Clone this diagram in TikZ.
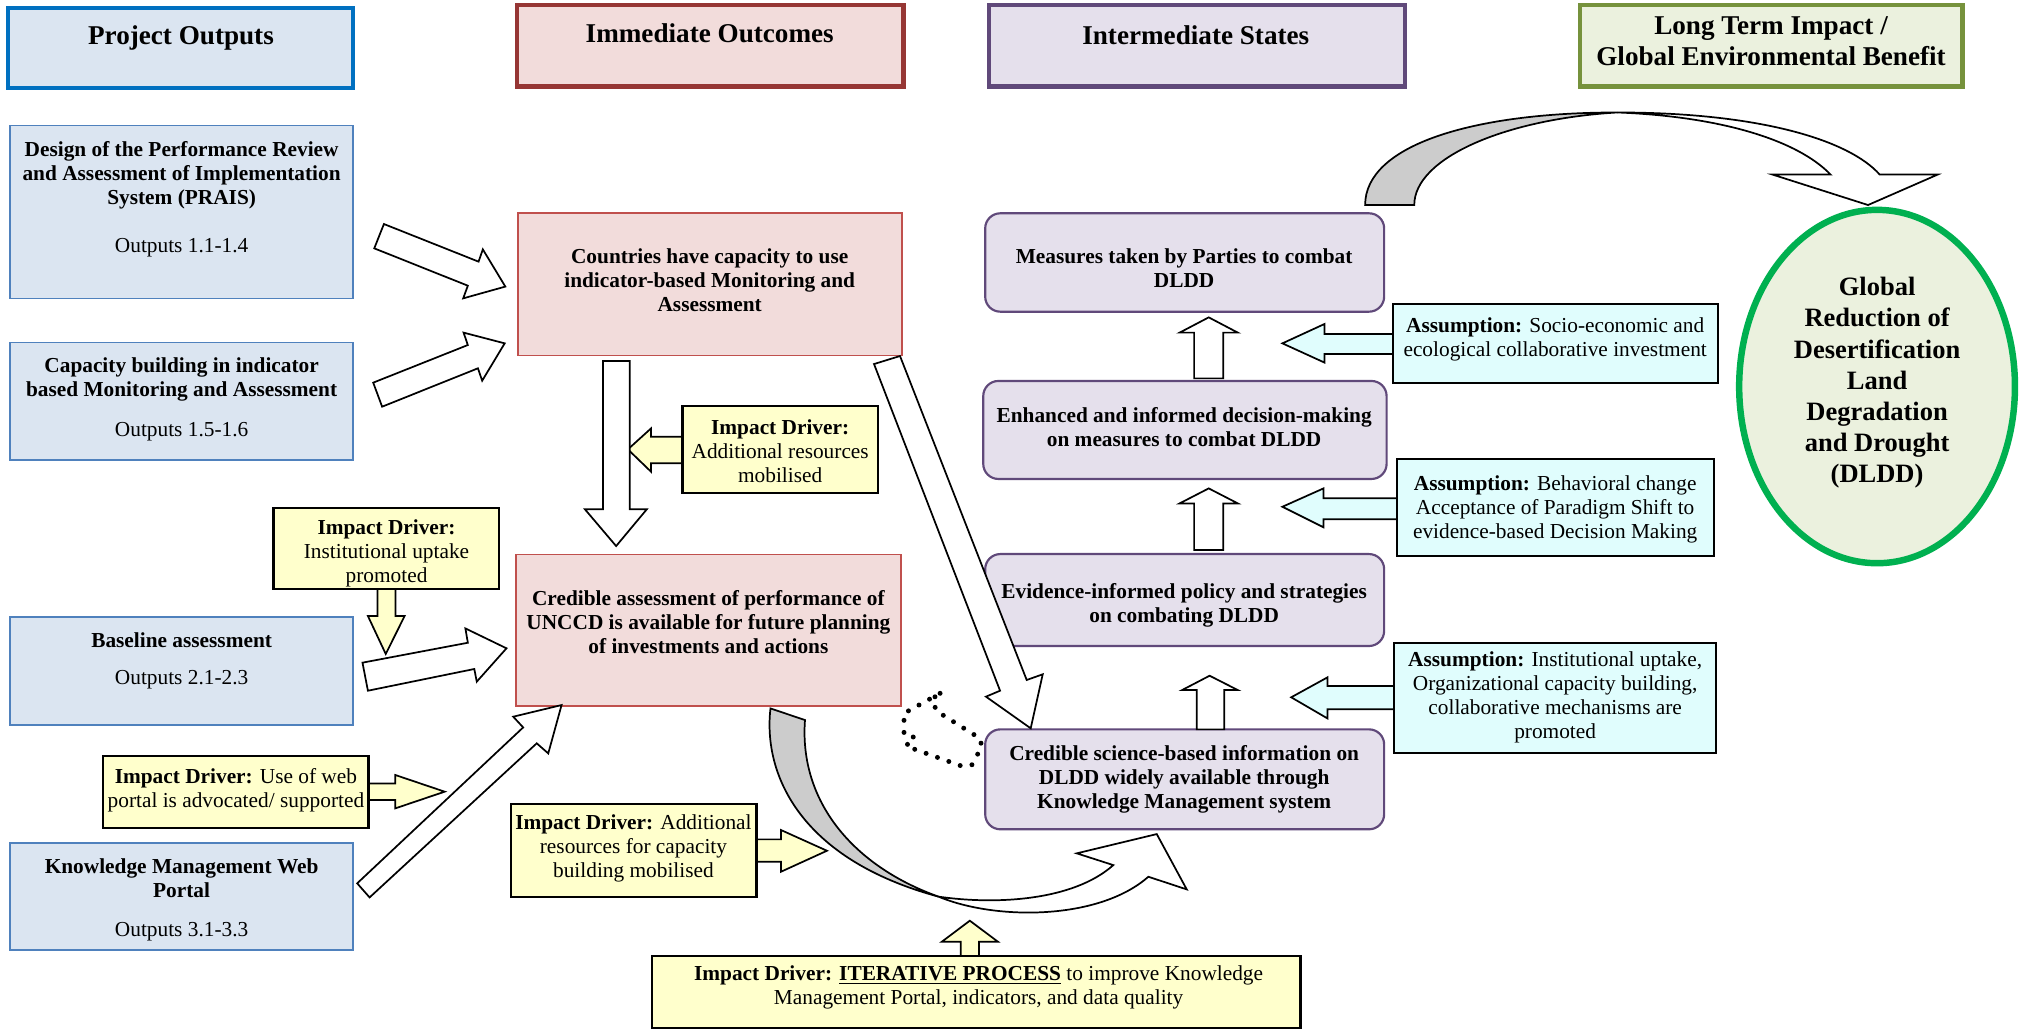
\documentclass[tikz,border=0pt]{standalone}
\usepackage{fontspec}
\setmainfont{Liberation Serif}
\usetikzlibrary{fit,shapes.geometric}
\definecolor{pofill}{RGB}{219,229,241}
\definecolor{poedge}{RGB}{79,129,189}
\definecolor{pohdr}{RGB}{0,112,192}
\definecolor{iofill}{RGB}{242,220,219}
\definecolor{ioedge}{RGB}{192,80,77}
\definecolor{iohdr}{RGB}{150,54,52}
\definecolor{isfill}{RGB}{229,224,236}
\definecolor{isedge}{RGB}{96,73,122}
\definecolor{ltfill}{RGB}{235,241,222}
\definecolor{ltedge}{RGB}{118,146,60}
\definecolor{ellgreen}{RGB}{0,176,80}
\definecolor{idyellow}{RGB}{255,255,204}
\definecolor{ascyan}{RGB}{224,253,253}
\definecolor{tailgray}{RGB}{204,204,204}
\newcommand\bodyfont{\fontsize{9.9pt}{11.2pt}\selectfont}
\newcommand\hdrfont{\fontsize{12.6pt}{14.4pt}\selectfont\bfseries}
\newcommand\ellfont{\fontsize{12.3pt}{14.4pt}\selectfont\bfseries}
\tikzset{
  box/.style={draw, inner sep=0pt, line width=0.8pt},
  pobox/.style={box, fill=pofill, draw=poedge},
  iobox/.style={box, fill=iofill, draw=ioedge},
  isbox/.style={box, fill=isfill, draw=isedge, rounded corners=7pt, line width=1pt},
  asbox/.style={box, fill=ascyan, draw=black, line width=1pt},
  idbox/.style={box, fill=idyellow, draw=black, line width=1pt},
  hdrbox/.style={box, line width=2pt},
  txt/.style={align=center, font=\bodyfont, inner sep=0pt},
  btxt/.style={txt, font=\bodyfont\bfseries},
  htxt/.style={align=center, font=\hdrfont, inner sep=0pt},
  blk/.style={draw=black, fill=white, line width=0.8pt, line join=miter},
  yblk/.style={blk, fill=idyellow},
  cblk/.style={blk, fill=ascyan},
}
\begin{document}
\begin{tikzpicture}[x=0.6pt, y=-0.6pt]
\useasboundingbox (0,0) rectangle (1568,796);
\fill[white] (0,0) rectangle (1568,796);

% ---------- headers ----------
\node[hdrbox, fill=pofill, draw=pohdr, fit={(6,6) (273,68)}] (hpo) {};
\node[hdrbox, fill=iofill, draw=iohdr, fit={(400,4) (699,67)}] (hio) {};
\node[hdrbox, fill=isfill, draw=isedge, fit={(765,4) (1087,67)}] (his) {};
\node[hdrbox, fill=ltfill, draw=ltedge, fit={(1222,4) (1518,67)}] (hlt) {};
\node[htxt] (hpot) at (140,29) {Project Outputs};
\node[htxt] (hiot) at (549,26) {Immediate Outcomes};
\node[htxt] (hist) at (925,27) {Intermediate States};
\node[htxt] (hltt) at (1370,32) {Long Term Impact /\\Global Environmental Benefit};

% ---------- yellow driver arrows (under their boxes) ----------
\draw[yblk] (530,337.8) -- (503.6,337.8) -- (503.6,331.4) -- (485.7,347.6) -- (503.6,364.9) -- (503.6,358.4) -- (530,358.4) -- cycle;
\draw[yblk] (292,453) -- (292,476.5) -- (284.6,476.5) -- (298.4,505.9) -- (313,476.5) -- (305.9,476.5) -- (305.9,453) -- cycle;
\draw[yblk] (282,606) -- (305.8,606) -- (305.8,599.5) -- (344,612.4) -- (305.8,625.3) -- (305.8,618.9) -- (282,618.9) -- cycle;
\draw[yblk] (582,649.3) -- (604.2,649.3) -- (604.2,642.1) -- (639.7,658.1) -- (604.2,674.3) -- (604.2,666.6) -- (582,666.6) -- cycle;
\draw[yblk] (743.1,742) -- (743.1,728.5) -- (728.5,728.5) -- (750.2,712.2) -- (772,728.5) -- (757.3,728.5) -- (757.3,742) -- cycle;

% ---------- cyan assumption arrows ----------
\draw[cblk] (1080,258.4) -- (1024.6,258.4) -- (1024.6,250.6) -- (992,265.6) -- (1024.6,280.5) -- (1024.6,273.8) -- (1080,273.8) -- cycle;
\draw[cblk] (1083,385.5) -- (1023.8,385.5) -- (1023.8,377.8) -- (992,392) -- (1023.8,407.9) -- (1023.8,401.7) -- (1083,401.7) -- cycle;
\draw[cblk] (1080,530.7) -- (1026.8,530.7) -- (1026.8,524) -- (998.8,539.4) -- (1026.8,555.7) -- (1026.8,548.7) -- (1080,548.7) -- cycle;

% ---------- project output boxes ----------
\node[pobox, fit={(8,97) (273,231)}] (b1) {};
\node[pobox, fit={(8,265) (273,356)}] (b2) {};
\node[pobox, fit={(8,477) (273,561)}] (b3) {};
\node[pobox, fit={(8,652) (273,735)}] (b4) {};
\node[btxt] (b1t) at (140.5,135.5) {Design of the Performance Review\\and Assessment of Implementation\\System (PRAIS)};
\node[txt] (b1o) at (140.5,192) {Outputs 1.1-1.4};
\node[btxt] (b2t) at (140.5,293.5) {Capacity building in indicator\\based Monitoring and Assessment};
\node[txt] (b2o) at (140.5,334) {Outputs 1.5-1.6};
\node[btxt] (b3t) at (140.5,495) {Baseline assessment};
\node[txt] (b3o) at (140.5,526) {Outputs 2.1-2.3};
\node[btxt] (b4t) at (140.5,679.5) {Knowledge Management Web\\Portal};
\node[txt] (b4o) at (140.5,721) {Outputs 3.1-3.3};

% ---------- immediate outcomes ----------
\node[iobox, fit={(400.6,165) (698,275)}] (io1) {};
\node[iobox, fit={(399,429) (697,546)}] (io2) {};
\node[btxt] (io1t) at (549,216.5) {Countries have capacity to use\\indicator-based Monitoring and\\Assessment};
\node[btxt] (io2t) at (548,481) {Credible assessment of performance of\\UNCCD is available for future planning\\of investments and actions};

% ---------- impact driver boxes ----------
\node[idbox, fit={(528,314) (679,381.6)}] (id1) {};
\node[txt] (id1t) at (603.5,349) {\textbf{Impact Driver:}\\Additional resources\\mobilised};
\node[idbox, fit={(211.6,392.7) (386.2,455.9)}] (id2) {};
\node[txt] (id2t) at (299,428) {\textbf{Impact Driver:}\\Institutional uptake\\promoted};
\node[idbox, fit={(80,584.8) (285,640.3)}] (id3) {};
\node[txt] (id3t) at (182.5,611) {\textbf{Impact Driver:} Use of web\\portal is advocated/ supported};
\node[idbox, fit={(395,622.2) (585.2,693.6)}] (id4) {};
\node[txt] (id4t) at (490,656) {\textbf{Impact Driver:} Additional\\resources for capacity\\building mobilised};
\node[idbox, fit={(504.3,739.5) (1006,795)}] (id5) {};
\node[txt] (id5t) at (757,763.6) {\textbf{Impact Driver: \underline{ITERATIVE PROCESS}} to improve Knowledge\\Management Portal, indicators, and data quality};

% ---------- intermediate states ----------
\node[isbox, fit={(762.1,165) (1070.7,241.1)}] (is1) {};
\node[isbox, fit={(760.6,294.7) (1072.6,370.5)}] (is2) {};
\node[isbox, fit={(762.1,428.6) (1070.7,499.7)}] (is3) {};
\node[isbox, fit={(762.1,564.2) (1070.7,641.5)}] (is4) {};
\node[btxt] (is1t) at (916,207.6) {Measures taken by Parties to combat\\DLDD};
\node[btxt] (is2t) at (916,330.7) {Enhanced and informed decision-making\\on measures to combat DLDD};
\node[btxt] (is3t) at (916,468) {Evidence-informed policy and strategies\\on combating DLDD};
\node[btxt] (is4t) at (916,603) {Credible science-based information on\\DLDD widely available through\\Knowledge Management system};

% ---------- assumptions ----------
\node[asbox, fit={(1077.5,235.2) (1328.7,296)}] (as1) {};
\node[asbox, fit={(1080.8,355.3) (1325.7,429.9)}] (as2) {};
\node[asbox, fit={(1078.2,497.7) (1327.6,582.3)}] (as3) {};
\node[txt] (as1t) at (1203,262.8) {\textbf{Assumption:} Socio-economic and\\ecological collaborative investment};
\node[txt] (as2t) at (1203,393.9) {\textbf{Assumption:} Behavioral change\\Acceptance of Paradigm Shift to\\evidence-based Decision Making};
\node[txt] (as3t) at (1203,539.5) {\textbf{Assumption:} Institutional uptake,\\Organizational capacity building,\\collaborative mechanisms are\\promoted};

% ---------- goal ellipse ----------
\node[ellipse, draw=ellgreen, line width=3pt, fill=ltfill, minimum width=128pt, minimum height=164pt, inner sep=0pt] (goal) at (1452,299) {};
\node[align=center, font=\ellfont, inner sep=0pt] (goalt) at (1452,296) {Global\\Reduction of\\Desertification\\Land\\Degradation\\and Drought\\(DLDD)};

% ---------- white block arrows ----------
\draw[blk] (297,173.3) -- (370.2,202.4) -- (373.5,192.9) -- (390.9,221.7) -- (358.3,230.8) -- (361.9,221) -- (289.5,192.1) -- cycle;
\draw[blk] (288.7,296) -- (361.9,266.9) -- (358.6,257.3) -- (390.4,265.6) -- (373,294.5) -- (369.7,284.9) -- (295.6,314.6) -- cycle;
\draw[blk] (466.4,279.3) -- (487.1,279.3) -- (487.1,394) -- (500.3,394) -- (476.6,422.4) -- (452.5,394) -- (466.4,394) -- cycle;
\draw[blk] (280.4,512.6) -- (361.9,497.2) -- (360,486.1) -- (391.8,501.5) -- (368.8,527.3) -- (366.9,517.5) -- (284.6,534.3) -- cycle;
\draw[blk] (276.3,683.3) -- (404.7,562.7) -- (397,554.4) -- (434.4,545.4) -- (424.1,582.8) -- (415.2,575) -- (285.9,694.2) -- cycle;
\draw[blk] (676.1,281.6) -- (696.2,275.4) -- (794.2,526) -- (806.6,521.6) -- (797.3,563.4) -- (762.7,538.9) -- (773.6,534.3) -- cycle;
\draw[blk] (923.7,292.7) -- (923.7,257.3) -- (912.5,257.3) -- (935,245.5) -- (957.5,257.3) -- (946.2,257.3) -- (946.2,292.7) -- cycle;
\draw[blk] (923.7,425.5) -- (923.7,389.4) -- (912.5,389.4) -- (935,377.8) -- (957.5,389.4) -- (946.2,389.4) -- (946.2,425.5) -- cycle;
\draw[blk] (925.7,564.2) -- (925.7,533.8) -- (914.4,533.8) -- (935.7,522.7) -- (957.5,533.8) -- (947,533.8) -- (947,564.2) -- cycle;

% ---------- dotted shape ----------
\draw[line width=2.3pt, line cap=round, dash pattern=on 0pt off 5.6pt]
  (727.2,536.3) -- (699.3,551.8) -- (699.3,568.6) -- (707.8,570.4) -- (700.6,577.1) -- (743.9,592.6) -- (751.7,591.8) -- (759.4,577.6) -- (758.1,571.2) -- (724.1,549.8) -- (721.5,540.2) -- cycle;

% ---------- top curved arrow ----------
\draw[blk, fill=tailgray] (1056,158.6) .. controls (1056,112) and (1140,87) .. (1251,87)
  .. controls (1165,92) and (1094,122) .. (1094,158.6) -- cycle;
\draw[blk] (1251,87) .. controls (1360,87) and (1430,108) .. (1454,135)
  -- (1499,135) -- (1445,158.6) -- (1371,135) -- (1416,135)
  .. controls (1390,108) and (1330,90) .. (1251,87) -- cycle;

% ---------- bottom curved arrow ----------
\draw[blk, fill=tailgray] (596,548) .. controls (590,600) and (620,665) .. (726,693.6)
  .. controls (660,670) and (618,620) .. (622.7,557) -- cycle;
\draw[blk] (726,693.6) .. controls (770,712) and (850,712) .. (888.3,678.2)
  -- (918,688) -- (894.8,645.2) -- (832.9,660.1) -- (861.2,669.2)
  .. controls (830,697) and (770,700) .. (726,693.6) -- cycle;
\end{tikzpicture}
\end{document}
